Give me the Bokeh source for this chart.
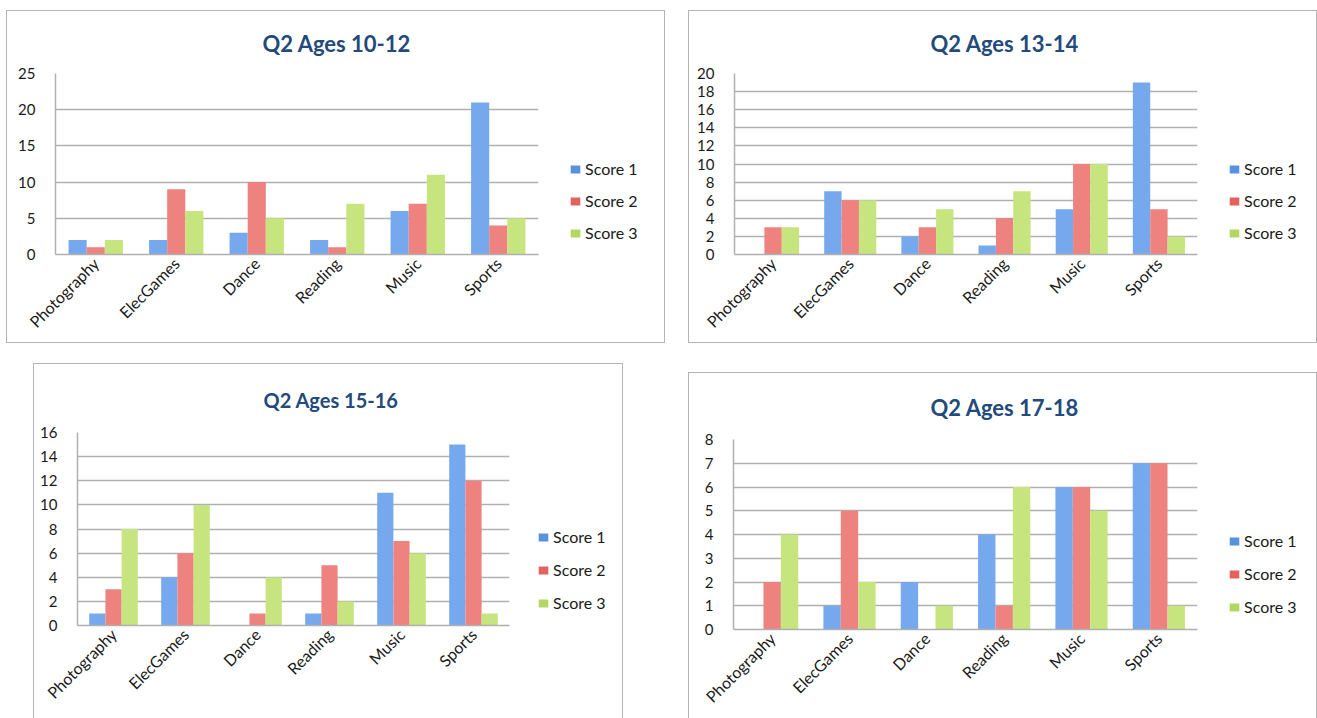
import math
from bokeh.plotting import figure
from bokeh.models import (ColumnDataSource, FactorRange, Range1d, SingleIntervalTicker,
                          Spacer, Legend, LegendItem)
from bokeh.layouts import row, column
from bokeh.transform import dodge
from bokeh.embed import file_html
from bokeh.resources import INLINE

categories = ["Photography", "ElecGames", "Dance", "Reading", "Music", "Sports"]
series_names = ["Score 1", "Score 2", "Score 3"]

titles = ["Q2 Ages 10-12", "Q2 Ages 13-14", "Q2 Ages 15-16", "Q2 Ages 17-18"]

ages_10_12_score1 = [2, 2, 3, 2, 6, 21]
ages_10_12_score2 = [1, 9, 10, 1, 7, 4]
ages_10_12_score3 = [2, 6, 5, 7, 11, 5]

ages_13_14_score1 = [0, 7, 2, 1, 5, 19]
ages_13_14_score2 = [3, 6, 3, 4, 10, 5]
ages_13_14_score3 = [3, 6, 5, 7, 10, 2]

ages_15_16_score1 = [1, 4, 0, 1, 11, 15]
ages_15_16_score2 = [3, 6, 1, 5, 7, 12]
ages_15_16_score3 = [8, 10, 4, 2, 6, 1]

ages_17_18_score1 = [0, 1, 2, 4, 6, 7]
ages_17_18_score2 = [2, 5, 0, 1, 6, 7]
ages_17_18_score3 = [4, 2, 1, 6, 5, 1]

y_max = [25, 20, 16, 8]
y_step = [5, 2, 2, 1]

COLORS = ["#76a8ee", "#ee827e", "#c6e57f"]
LEGEND_COLORS = ["#5891e0", "#e1625e", "#b2d862"]
FONT = "Lato"
GRID = "#b0b0b0"
BORDER = "1px solid #b4b4b4"


def make_panel(title, s1, s2, s3, ymax, step, W, H, mbl, mbr, mbt, mbb,
               title_size, title_off, title_standoff, LW, leg_x, leg_y, leg_spacing,
               open_bottom):
    main_styles = {"border-left": BORDER, "border-top": BORDER}
    leg_styles = {"border-right": BORDER, "border-top": BORDER}
    if not open_bottom:
        main_styles["border-bottom"] = BORDER
        leg_styles["border-bottom"] = BORDER

    src = ColumnDataSource(dict(cat=categories, s1=s1, s2=s2, s3=s3))
    p = figure(x_range=FactorRange(*categories), y_range=Range1d(0, ymax),
               width=W, height=H, output_backend="svg", toolbar_location=None,
               min_border_left=mbl, min_border_right=mbr,
               min_border_top=mbt, min_border_bottom=mbb,
               styles=main_styles)
    bw = 0.225
    for i, col in enumerate(["s1", "s2", "s3"]):
        p.vbar(x=dodge("cat", (i - 1) * bw, range=p.x_range), top=col, width=bw,
               source=src, fill_color=COLORS[i], line_color=None)

    p.title.text = title
    p.title.text_font = FONT
    p.title.text_font_size = title_size
    p.title.text_font_style = "bold"
    p.title.text_color = "#234a7b"
    p.title.align = "left"
    p.title.offset = title_off
    p.title.standoff = title_standoff

    p.outline_line_color = None
    p.background_fill_color = "white"
    p.border_fill_color = "white"

    p.yaxis.ticker = SingleIntervalTicker(interval=step)
    p.ygrid.ticker = SingleIntervalTicker(interval=step)
    p.xgrid.grid_line_color = None
    p.ygrid.grid_line_color = GRID
    p.ygrid.grid_line_width = 1.5

    p.axis.major_tick_line_color = None
    p.axis.minor_tick_line_color = None
    p.axis.major_tick_out = 0
    p.axis.major_tick_in = 0
    p.axis.axis_line_color = GRID
    p.axis.axis_line_width = 1.5
    p.axis.major_label_text_font = FONT
    p.axis.major_label_text_color = "#1a1a1a"
    p.yaxis.major_label_text_font_size = "15px"
    p.yaxis.major_label_standoff = 16
    p.xaxis.major_label_text_font_size = "16px"
    p.xaxis.major_label_orientation = math.pi / 4
    p.xaxis.major_label_standoff = 6

    # legend panel (right-hand part of the chart box)
    lg = figure(width=LW, height=H, output_backend="svg", toolbar_location=None,
                x_range=Range1d(0, 1), y_range=Range1d(0, 1),
                x_axis_location=None, y_axis_location=None,
                min_border_left=0, min_border_right=0,
                min_border_top=0, min_border_bottom=0,
                styles=leg_styles)
    lg.title.text = ""
    lg.grid.grid_line_color = None
    lg.outline_line_color = None
    lg.background_fill_color = "white"
    lg.border_fill_color = "white"
    items = []
    for i, (col, name) in enumerate(zip(["s1", "s2", "s3"], series_names)):
        r = lg.vbar(x=col, top=col, width=0.2, source=src,
                    fill_color=LEGEND_COLORS[i], line_color=None, visible=False)
        items.append(LegendItem(label=name, renderers=[r]))
    leg = Legend(items=items, location=(leg_x, leg_y))
    leg.padding = 0
    leg.margin = 0
    leg.border_line_color = None
    leg.background_fill_alpha = 0
    leg.inactive_fill_alpha = 0
    leg.glyph_width = 12
    leg.glyph_height = 10
    leg.label_height = 10
    leg.label_standoff = 4
    leg.spacing = leg_spacing
    leg.label_text_font = FONT
    leg.label_text_font_size = "16px"
    leg.label_text_color = "#1a1a1a"
    lg.add_layout(leg, "center")
    return row(p, lg)


panel1 = make_panel(titles[0], ages_10_12_score1, ages_10_12_score2, ages_10_12_score3,
                    y_max[0], y_step[0], 551, 333, 48, 20, 62, 90, "22px", 207, 33,
                    108, 12, 12, 13, False)
panel2 = make_panel(titles[1], ages_13_14_score1, ages_13_14_score2, ages_13_14_score3,
                    y_max[1], y_step[1], 528, 333, 45, 20, 62, 90, "22px", 196, 33,
                    101, 12, 12, 13, False)
panel3 = make_panel(titles[2], ages_15_16_score1, ages_15_16_score2, ages_15_16_score3,
                    y_max[2], y_step[2], 495, 355, 43, 20, 68, 94, "20px", 186, 41,
                    95, 9, 13, 14, True)
panel4 = make_panel(titles[3], ages_17_18_score1, ages_17_18_score2, ages_17_18_score3,
                    y_max[3], y_step[3], 528, 346, 44, 20, 66, 90, "22px", 197, 37,
                    101, 12, 13, 14, True)

layout = column(
    Spacer(height=10),
    row(Spacer(width=6), panel1, Spacer(width=23), panel2),
    row(Spacer(width=33), column(Spacer(height=20), panel3), Spacer(width=65),
        column(Spacer(height=29), panel4)),
)

open("out.html", "w").write(file_html(layout, INLINE))
